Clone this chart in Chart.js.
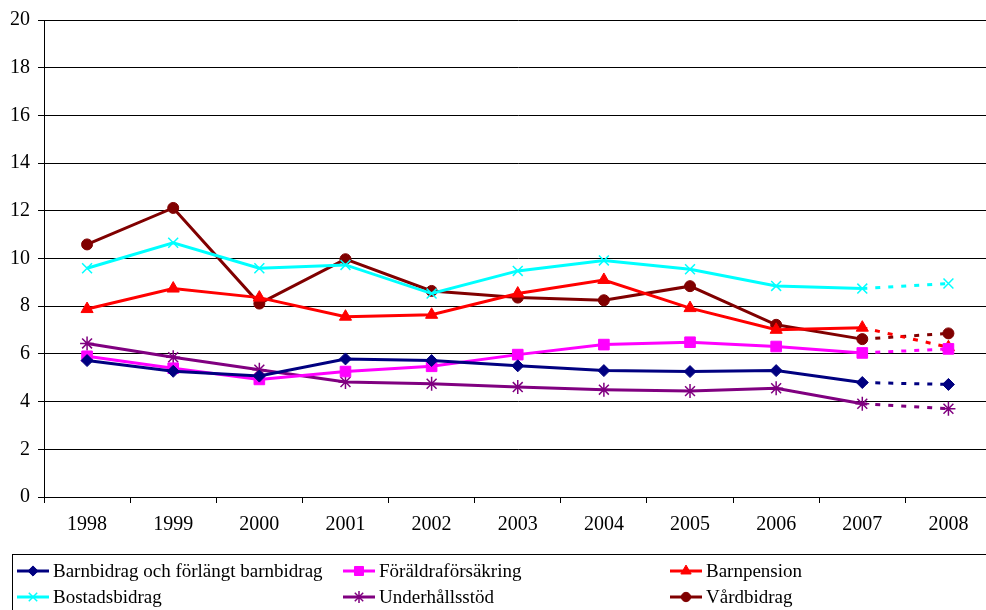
<!DOCTYPE html>
<html>
<head>
<meta charset="utf-8">
<script src="https://cdn.jsdelivr.net/npm/chart.js@4/dist/chart.umd.min.js"></script>
<style>
  html, body { margin: 0; padding: 0; background: #fff; overflow: hidden; }
  #wrap { width: 1000px; height: 610px; }
</style>
</head>
<body>
<div id="wrap"><canvas id="chart" width="1000" height="610"></canvas></div>
<script>
const years = ["1998", "1999", "2000", "2001", "2002", "2003", "2004", "2005", "2006", "2007", "2008"];

const barnbidrag = [5.72, 5.27, 5.07, 5.79, 5.72, 5.50, 5.30, 5.26, 5.30, 4.80, 4.72];
const foraldraforsakring = [5.90, 5.40, 4.93, 5.26, 5.48, 5.97, 6.39, 6.49, 6.31, 6.04, 6.21];
const barnpension = [7.88, 8.74, 8.36, 7.56, 7.64, 8.53, 9.10, 7.92, 7.01, 7.10, 6.28];
const bostadsbidrag = [9.59, 10.66, 9.59, 9.73, 8.53, 9.48, 9.92, 9.55, 8.85, 8.74, 8.95];
const underhallsstod = [6.44, 5.86, 5.34, 4.82, 4.75, 4.61, 4.50, 4.44, 4.56, 3.91, 3.70];
const vardbidrag = [10.59, 12.12, 8.11, 9.97, 8.64, 8.36, 8.25, 8.84, 7.22, 6.62, 6.86];

const seriesNames = [
  "Barnbidrag och förlängt barnbidrag",
  "Föräldraförsäkring",
  "Barnpension",
  "Bostadsbidrag",
  "Underhållsstöd",
  "Vårdbidrag"
];

const yTicks = [0, 2, 4, 6, 8, 10, 12, 14, 16, 18, 20];

// last year is a forecast -> dashed segment
const forecastFrom = years.length - 2;

function series(label, data, color, style, radius) {
  return {
    label,
    data,
    borderColor: color,
    backgroundColor: color,
    borderWidth: 3,
    pointStyle: style,
    pointRadius: radius,
    pointHoverRadius: radius,
    pointBackgroundColor: color,
    pointBorderColor: color,
    pointBorderWidth: style === "crossRot" || style === "star" ? 1.5 : 1,
    tension: 0,
    segment: {
      borderDash: (ctx) => (ctx.p0DataIndex >= forecastFrom ? [5, 8] : undefined),
    },
  };
}

const datasets = [
  series(seriesNames[0], barnbidrag, "#000080", "rectRot", 6),
  series(seriesNames[1], foraldraforsakring, "#FF00FF", "rect", 7.5),
  series(seriesNames[2], barnpension, "#FF0000", "triangle", 7),
  series(seriesNames[3], bostadsbidrag, "#00FFFF", "crossRot", 7),
  series(seriesNames[4], underhallsstod, "#800080", "star", 7),
  series(seriesNames[5], vardbidrag, "#800000", "circle", 5.5),
];

// legend in a box under the axis, three fixed columns
const boxLegend = {
  id: "boxLegend",
  afterDraw(chart) {
    const ctx = chart.ctx;
    const colX = [17, 343, 670];
    const rowY = [571, 597];
    ctx.save();
    ctx.strokeStyle = "#000";
    ctx.lineWidth = 1;
    ctx.strokeRect(12.5, 554.5, 1000, 100);
    ctx.font = '19px "Liberation Serif", "Times New Roman", serif';
    ctx.textBaseline = "middle";
    ctx.fillStyle = "#000";
    chart.data.datasets.forEach((ds, i) => {
      const x = colX[i % 3];
      const y = rowY[Math.floor(i / 3)];
      ctx.strokeStyle = ds.borderColor;
      ctx.lineWidth = 3;
      ctx.setLineDash([]);
      ctx.beginPath();
      ctx.moveTo(x, y);
      ctx.lineTo(x + 32, y);
      ctx.stroke();
      ctx.fillStyle = ds.backgroundColor;
      ctx.strokeStyle = ds.borderColor;
      ctx.lineWidth = ds.pointBorderWidth;
      Chart.helpers.drawPoint(ctx, { pointStyle: ds.pointStyle, radius: ds.pointRadius * 0.85, rotation: 0, borderWidth: ds.pointBorderWidth }, x + 16, y);
      ctx.fillStyle = "#000";
      ctx.fillText(ds.label, x + 36, y + 1);
    });
    ctx.restore();
  },
};

Chart.defaults.font.family = '"Liberation Serif", "Times New Roman", serif';
Chart.defaults.font.size = 20;
Chart.defaults.color = "#000";

new Chart(document.getElementById("chart"), {
  type: "line",
  data: { labels: years, datasets },
  options: {
    responsive: false,
    animation: false,
    devicePixelRatio: 1,
    layout: { padding: { top: 18, right: 5, left: 0, bottom: 0 } },
    plugins: {
      legend: { display: false },
      tooltip: { enabled: false },
    },
    scales: {
      x: {
        offset: true,
        grid: { offset: true, drawOnChartArea: false, tickLength: 6, color: "#000" },
        border: { display: true, color: "#000", width: 1 },
        ticks: { padding: 10, maxRotation: 0, autoSkip: false },
        afterFit(scale) { scale.height = 113; },
      },
      y: {
        min: 0,
        max: 20,
        afterBuildTicks(scale) { scale.ticks = yTicks.map((v) => ({ value: v })); },
        grid: { color: "#000", lineWidth: 1, tickLength: 6 },
        border: { display: true, color: "#000", width: 1 },
        ticks: { padding: 8 },
        afterFit(scale) { scale.width = 44; },
      },
    },
  },
  plugins: [boxLegend],
});
</script>
</body>
</html>
